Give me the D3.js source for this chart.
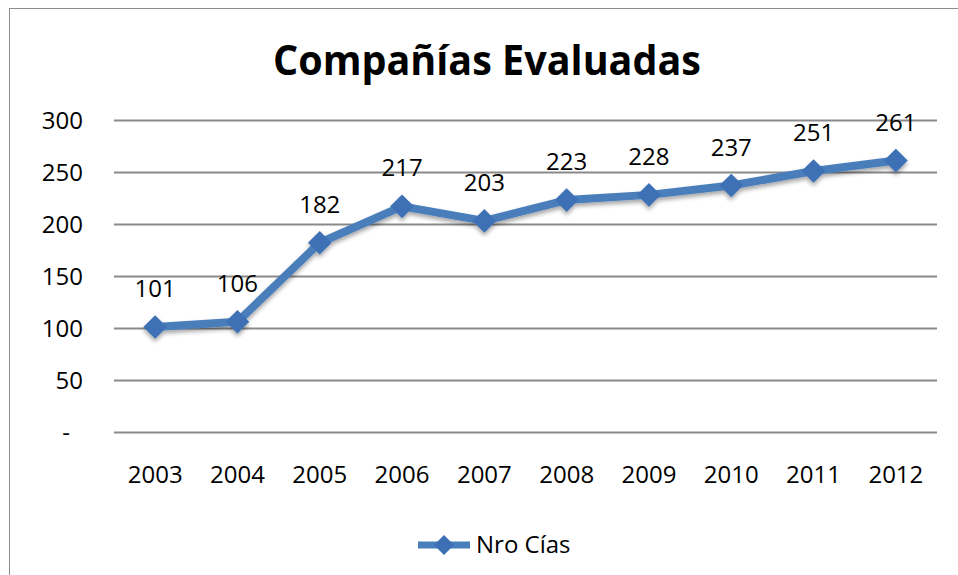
<!DOCTYPE html>
<html>
<head>
<meta charset="utf-8">
<script src="https://cdn.jsdelivr.net/npm/d3@7"></script>
<style>
  body { margin: 0; background: #fff; }
  text { font-family: "Open Sans", sans-serif; fill: #000; }
</style>
</head>
<body>
<div id="chart"></div>
<script>
// data
var years = ["2003", "2004", "2005", "2006", "2007", "2008", "2009", "2010", "2011", "2012"];
var companies = [101, 106, 182, 217, 203, 223, 228, 237, 251, 261];
var yTicks = [0, 50, 100, 150, 200, 250, 300];
var seriesName = "Nro Cías";
var title = "Compañías Evaluadas";

var svgWidth = 958;
var svgHeight = 575;

var margin = { top: 120, right: 21, bottom: 143, left: 114 };
var width = svgWidth - margin.left - margin.right;
var height = svgHeight - margin.top - margin.bottom;

var svg = d3.select("#chart")
  .append("svg")
  .attr("width", svgWidth)
  .attr("height", svgHeight);

// drop shadow for the line and markers
var defs = svg.append("defs");
var shadow = defs.append("filter")
  .attr("id", "shadow")
  .attr("x", "-20%").attr("y", "-20%")
  .attr("width", "140%").attr("height", "140%");
shadow.append("feDropShadow")
  .attr("dx", 0).attr("dy", 3)
  .attr("stdDeviation", 2)
  .attr("flood-color", "#000")
  .attr("flood-opacity", 0.35);

// outer frame
svg.append("rect")
  .attr("x", 9.5).attr("y", 8.5)
  .attr("width", 960).attr("height", 580)
  .attr("fill", "none")
  .attr("stroke", "#8c8c8c")
  .attr("stroke-width", 1);

// title
svg.append("text")
  .attr("x", 487)
  .attr("y", 75)
  .attr("text-anchor", "middle")
  .attr("font-size", "42px")
  .attr("font-weight", "bold")
  .attr("textLength", 428)
  .attr("lengthAdjust", "spacingAndGlyphs")
  .text(title);

var chartGroup = svg.append("g")
  .attr("transform", `translate(${margin.left}, ${margin.top})`);

var xScale = d3.scaleBand()
  .domain(years)
  .range([0, width]);

var yScale = d3.scaleLinear()
  .domain([0, 300])
  .range([height, 0]);

// gridlines
chartGroup.selectAll(".grid")
  .data(yTicks)
  .enter()
  .append("line")
  .attr("class", "grid")
  .attr("x1", 0)
  .attr("x2", width)
  .attr("y1", d => Math.round(yScale(d)) + 0.5)
  .attr("y2", d => Math.round(yScale(d)) + 0.5)
  .attr("stroke", "#8a8a8a")
  .attr("stroke-width", 2);

// y axis labels
var leftAxis = d3.axisLeft(yScale)
  .tickValues(yTicks)
  .tickSize(0)
  .tickPadding(31)
  .tickFormat(d => d === 0 ? "-" : d);

var yAxis = chartGroup.append("g").call(leftAxis);
yAxis.select(".domain").remove();
yAxis.selectAll("text")
  .attr("font-size", "24px")
  .attr("font-family", "Open Sans, sans-serif")
  .attr("fill", "#000")
  .attr("dy", "0.35em");
yAxis.selectAll(".tick")
  .filter(d => d === 0)
  .select("text")
  .attr("text-anchor", "middle")
  .attr("x", -48);

// x axis labels
var bottomAxis = d3.axisBottom(xScale)
  .tickSize(0)
  .tickPadding(34);

var xAxis = chartGroup.append("g")
  .attr("transform", `translate(0, ${height})`)
  .call(bottomAxis);
xAxis.select(".domain").remove();
xAxis.selectAll("text")
  .attr("font-size", "24px")
  .attr("font-family", "Open Sans, sans-serif")
  .attr("fill", "#000");

var cx = d => xScale(d) + xScale.bandwidth() / 2;
var points = years.map((y, i) => ({ year: y, value: companies[i] }));

var lineColor = "#4a7ebb";
var markerColor = "#3d6fb5";

var series = chartGroup.append("g").attr("filter", "url(#shadow)");

var line = d3.line()
  .x(d => cx(d.year))
  .y(d => yScale(d.value));

series.append("path")
  .datum(points)
  .attr("d", line)
  .attr("fill", "none")
  .attr("stroke", lineColor)
  .attr("stroke-width", 8)
  .attr("stroke-linejoin", "round");

series.selectAll(".marker")
  .data(points)
  .enter()
  .append("path")
  .attr("class", "marker")
  .attr("d", d3.symbol().type(d3.symbolSquare).size(280))
  .attr("transform", d => `translate(${cx(d.year)}, ${yScale(d.value)}) rotate(45)`)
  .attr("fill", markerColor);

// data labels
chartGroup.selectAll(".dlabel")
  .data(points)
  .enter()
  .append("text")
  .attr("class", "dlabel")
  .attr("x", d => cx(d.year))
  .attr("y", d => yScale(d.value) - 30)
  .attr("text-anchor", "middle")
  .attr("font-size", "24px")
  .text(d => d.value);

// legend
var legend = svg.append("g")
  .attr("transform", "translate(418, 545)");

legend.append("line")
  .attr("x1", 0).attr("x2", 52)
  .attr("y1", 0).attr("y2", 0)
  .attr("stroke", lineColor)
  .attr("stroke-width", 7);

legend.append("path")
  .attr("d", d3.symbol().type(d3.symbolSquare).size(200))
  .attr("transform", "translate(26, 0) rotate(45)")
  .attr("fill", markerColor);

legend.append("text")
  .attr("x", 58)
  .attr("y", 0)
  .attr("dy", "0.35em")
  .attr("font-size", "24px")
  .text(seriesName);
</script>
</body>
</html>
